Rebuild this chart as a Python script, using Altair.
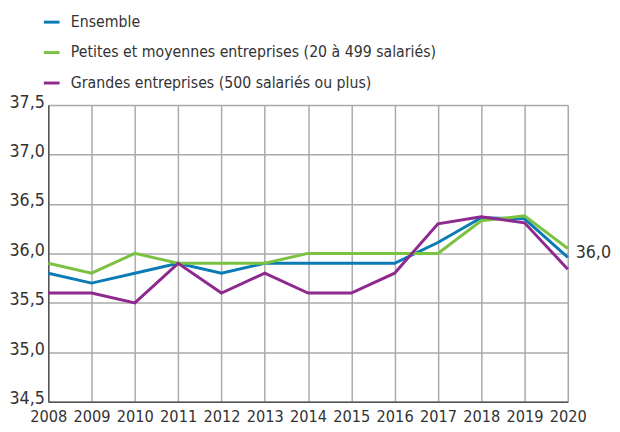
import altair as alt
import pandas as pd

years = list(range(2008, 2021))
ensemble = [35.8, 35.7, 35.8, 35.9, 35.8, 35.9, 35.9, 35.9, 35.9, 36.11, 36.36, 36.35, 35.96]
pme = [35.9, 35.8, 36.0, 35.9, 35.9, 35.9, 36.0, 36.0, 36.0, 36.0, 36.33, 36.38, 36.05]
grandes = [35.6, 35.6, 35.5, 35.9, 35.6, 35.8, 35.6, 35.6, 35.8, 36.3, 36.37, 36.31, 35.84]

series_names = [
    "Ensemble",
    "Petites et moyennes entreprises (20 à 499 salariés)",
    "Grandes entreprises (500 salariés ou plus)",
]
colors = ["#0a7bb5", "#7cc242", "#8e2a8f"]

rows = []
for name, vals in zip(series_names, [ensemble, pme, grandes]):
    for y, v in zip(years, vals):
        rows.append({"annee": y, "valeur": v, "serie": name})
df = pd.DataFrame(rows)

label_df = pd.DataFrame({"annee": [2020], "valeur": [36.0], "texte": ["36,0"]})

FONT = "'DejaVu Sans Condensed', 'Roboto Condensed', 'Liberation Sans', sans-serif"

base_x = alt.X(
    "annee:Q",
    scale=alt.Scale(domain=[2008, 2020], nice=False),
    axis=alt.Axis(
        values=years, format="d", title=None, labelFontSize=16.5, labelColor="#333333",
        labelFont=FONT, ticks=False, labelPadding=7, domainColor="#555555", domainWidth=1.5,
        gridColor="#aaaaaa", gridWidth=1.5, labelFlush=False, labelOverlap=False,
    ),
)
base_y = alt.Y(
    "valeur:Q",
    scale=alt.Scale(domain=[34.5, 37.5], nice=False, zero=False),
    axis=alt.Axis(
        values=[34.5, 35.0, 35.5, 36.0, 36.5, 37.0, 37.5], title=None,
        labelExpr="replace(format(datum.value, '.1f'), '.', ',')",
        labelFontSize=18, labelColor="#333333", labelFont=FONT, ticks=False,
        labelBaseline="alphabetic", labelOffset=2, labelOverlap=False,
        labelPadding=4, domainColor="#555555", domainWidth=1.5,
        gridColor="#aaaaaa", gridWidth=1.5,
    ),
)

lines = alt.Chart(df).mark_line(strokeWidth=3).encode(
    x=base_x,
    y=base_y,
    color=alt.Color(
        "serie:N",
        scale=alt.Scale(domain=series_names, range=colors),
        sort=series_names,
        legend=alt.Legend(
            title=None, orient="none", legendX=-6, legendY=-94, direction="vertical",
            symbolType="stroke", symbolSize=256, symbolStrokeWidth=3,
            labelFont=FONT, labelFontSize=16, labelColor="#333333",
            labelOffset=10, rowPadding=13, labelLimit=500,
        ),
    ),
)

label = alt.Chart(label_df).mark_text(
    align="left", baseline="middle", dx=8, fontSize=18, font=FONT, color="#333333"
).encode(x="annee:Q", y="valeur:Q", text="texte:N")

chart = (
    alt.layer(lines, label)
    .properties(
        width=529, height=302,
        autosize=alt.AutoSizeParams(type="none"),
        padding={"left": 41, "top": 95, "right": 45, "bottom": 30},
    )
    .configure_view(stroke="#aaaaaa", strokeWidth=1.5)
    .configure(background="white")
)

chart.save("out.html", embed_options={"renderer": "svg", "actions": False})
